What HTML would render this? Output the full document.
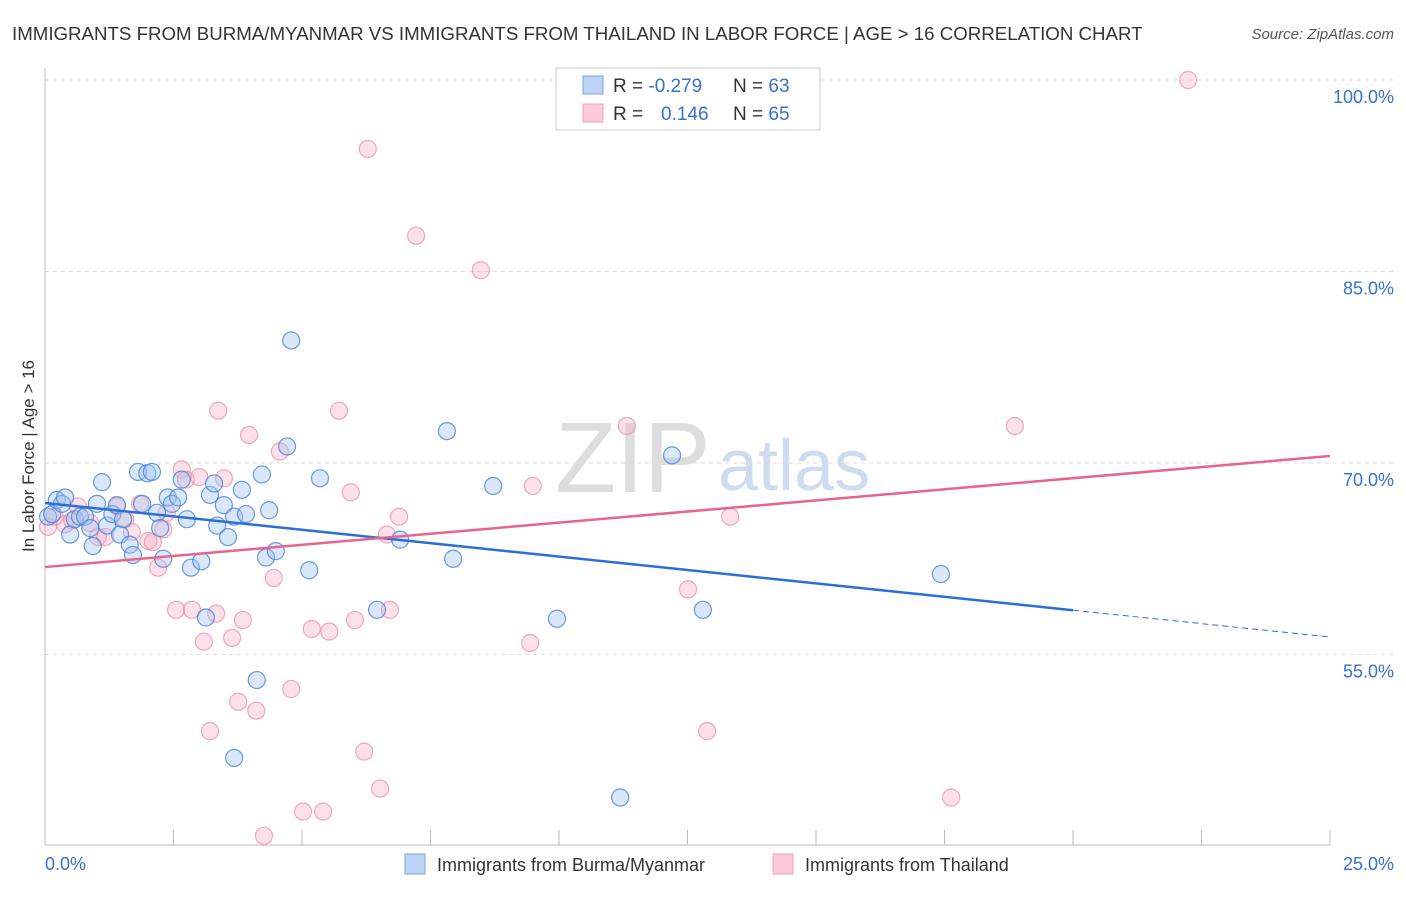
<!DOCTYPE html>
<html><head><meta charset="utf-8"><style>
body{margin:0;background:#fff;font-family:"Liberation Sans",sans-serif}
svg text{font-family:"Liberation Sans",sans-serif}
</style></head><body>
<svg width="1406" height="892" id="c">
<text x="12" y="40" font-size="18.7" fill="#333">IMMIGRANTS FROM BURMA/MYANMAR VS IMMIGRANTS FROM THAILAND IN LABOR FORCE | AGE &gt; 16 CORRELATION CHART</text>
<text x="1394" y="39" font-size="15" fill="#555" text-anchor="end" font-style="italic">Source: ZipAtlas.com</text>
<text x="555" y="492" font-size="100" fill="#ddd" font-family="Liberation Serif">ZIP</text>
<text x="718" y="490" font-size="72" fill="#cfdcef">atlas</text>
<g id="grid"></g>
<line x1="45" y1="68" x2="45" y2="845" stroke="#bbb"/>
<line x1="45" y1="845" x2="1330" y2="845" stroke="#bbb"/>
<text transform="translate(34,456) rotate(-90)" font-size="17" fill="#333" text-anchor="middle">In Labor Force | Age &gt; 16</text>
<text x="45" y="870" font-size="18" fill="#3a70d0">0.0%</text>
<text x="1394" y="870" font-size="18" fill="#3a70d0" text-anchor="end">25.0%</text>
<g id="pts"></g>
<g id="lines"></g>
<g>
<rect x="556" y="68" width="264" height="62" fill="#fff" stroke="#ccc"/>
<rect x="583" y="76" width="20" height="18" fill="#bcd3f5" stroke="#7aa3e0"/>
<rect x="583" y="104" width="20" height="18" fill="#fbcbd9" stroke="#eca0b8"/>
<text x="613" y="92" font-size="19" fill="#333">R = <tspan fill="#3a70d0">-0.279</tspan><tspan x="733">N = </tspan><tspan fill="#3a70d0">63</tspan></text>
<text x="613" y="120" font-size="19" fill="#333">R = <tspan x="661" fill="#3a70d0">0.146</tspan><tspan x="733">N = </tspan><tspan fill="#3a70d0">65</tspan></text>
</g>
<g>
<rect x="405" y="854" width="20" height="20" fill="#bcd3f5" stroke="#7aa3e0"/>
<text x="437" y="871" font-size="18" fill="#333">Immigrants from Burma/Myanmar</text>
<rect x="773" y="854" width="20" height="20" fill="#fbcbd9" stroke="#eca0b8"/>
<text x="805" y="871" font-size="18" fill="#333">Immigrants from Thailand</text>
</g>
</svg>
<script>
const yTicks=[100,85,70,55];
const xTicks=[0,2.5,5,7.5,10,12.5,15,17.5,20,22.5,25];
const burmaX=[0.06,0.14,0.23,0.33,0.39,0.49,0.58,0.68,0.78,0.88,1.01,1.11,1.21,1.31,1.40,1.46,1.52,1.65,1.71,1.81,1.89,1.99,2.08,2.18,2.24,2.30,2.39,2.47,2.59,2.66,2.76,2.84,3.04,3.13,3.21,3.29,3.35,3.48,3.56,3.68,3.68,3.83,3.91,4.12,4.22,4.30,4.36,4.49,4.71,4.79,5.14,5.35,6.46,6.91,7.82,7.94,8.72,9.96,11.19,12.20,12.80,17.43,0.93];
const burmaY=[65.8,66.0,67.1,66.8,67.3,64.4,65.6,65.8,65.8,64.9,66.8,68.5,65.1,66.0,66.7,64.4,65.6,63.6,62.8,69.3,66.8,69.2,69.3,66.1,64.9,62.5,67.3,66.8,67.3,68.7,65.6,61.8,62.3,57.9,67.5,68.4,65.1,66.7,64.2,65.8,46.9,67.9,66.0,53.0,69.1,62.6,66.3,63.1,71.3,79.6,61.6,68.8,58.5,64.0,72.5,62.5,68.2,57.8,43.8,70.6,58.5,61.3,63.5];
const thaiX=[0.06,0.19,0.39,0.53,0.64,0.88,1.03,1.17,1.40,1.56,1.69,1.85,2.01,2.10,2.20,2.30,2.37,2.55,2.66,2.74,2.86,3.00,3.09,3.21,3.33,3.37,3.48,3.64,3.76,3.85,3.97,4.11,4.26,4.45,4.57,4.79,5.02,5.19,5.41,5.53,5.72,5.95,6.03,6.21,6.28,6.52,6.65,6.71,6.89,7.22,8.48,9.44,9.49,11.32,12.51,12.88,13.33,17.63,18.87,22.24];
const thaiY=[65.0,65.8,65.2,65.5,66.6,65.3,64.2,64.2,66.6,65.6,64.6,66.8,63.9,63.8,61.8,64.8,66.1,58.5,69.5,68.7,58.5,68.9,56.0,49.0,58.2,74.1,68.8,56.3,51.3,57.7,72.2,50.6,40.8,61.0,70.9,52.3,42.7,57.0,42.7,56.8,74.1,67.7,57.7,47.4,94.6,44.5,64.4,58.5,65.8,87.8,85.1,55.9,68.2,72.9,60.1,49.0,65.8,43.8,72.9,100.0];
const X=v=>45+v*51.4, Y=v=>80+(100-v)*12.767;
const NS="http://www.w3.org/2000/svg";
function mk(t,a,p){const e=document.createElementNS(NS,t);for(const k in a)e.setAttribute(k,a[k]);p.appendChild(e);return e;}
const grid=document.getElementById('grid');
yTicks.forEach(v=>{
 const l=mk('line',{x1:45,x2:1394,y1:Y(v),y2:Y(v),stroke:'#ddd','stroke-dasharray':'4,4'},grid);
 
 
 const t=mk('text',{x:1394,y:Y(v)+23,'font-size':18,fill:'#3a70d0','text-anchor':'end'},grid);
 t.textContent=v.toFixed(1)+'%';
 
 
});
xTicks.forEach(v=>{
 const l=mk('line',{x1:X(v),x2:X(v),y1:830,y2:845,stroke:'#bbb'},grid);
 
 
});
const pts=document.getElementById('pts');
thaiX.forEach((x,i)=>{
 const c=mk('circle',{cx:X(x),cy:Y(thaiY[i]),r:8.5,fill:'rgba(248,170,195,0.35)',stroke:'rgba(236,140,170,0.75)','stroke-width':1.2},pts);
 
 
});
burmaX.forEach((x,i)=>{
 const c=mk('circle',{cx:X(x),cy:Y(burmaY[i]),r:8.5,fill:'rgba(160,195,240,0.4)',stroke:'rgba(70,130,215,0.8)','stroke-width':1.2},pts);
 
 
});
const ln=document.getElementById('lines');
const b0=66.87,b1=-0.42,t0=61.85,t1=0.348;
let e=mk('line',{x1:X(0),y1:Y(b0),x2:X(20),y2:Y(b0+b1*20),stroke:'#2a6fd6','stroke-width':2.5},ln);


e=mk('line',{x1:X(20),y1:Y(b0+b1*20),x2:X(25),y2:Y(b0+b1*25),stroke:'#2a6fd6','stroke-width':1,'stroke-dasharray':'6,4'},ln);


e=mk('line',{x1:X(0),y1:Y(t0),x2:X(25),y2:Y(t0+t1*25),stroke:'#e8648f','stroke-width':2.5},ln);


</script>
</body></html>
